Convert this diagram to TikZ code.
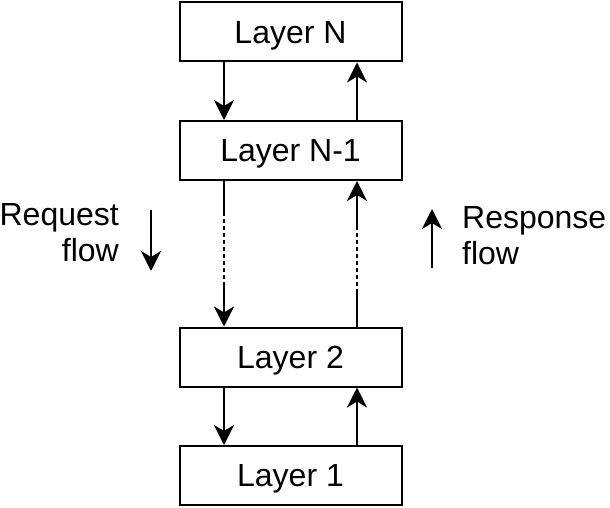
\documentclass[tikz,border=0pt]{standalone}
\usepackage{fontspec}
\setmainfont{Liberation Sans}
\usetikzlibrary{arrows.meta}

\tikzset{
  flowarrow/.style={line width=2.4pt,-{Stealth[length=20pt,width=20pt,inset=6pt]}}
}

\begin{document}
\begin{tikzpicture}[x=1pt,y=-1pt,
  layer/.style={draw,line width=2pt,minimum width=222pt,minimum height=59pt,inner sep=0pt,
    text depth=0pt,font=\fontsize{32}{37}\selectfont},
  gap/.style={line width=2.4pt,dash pattern=on 4pt off 3pt},
  flowtext/.style={inner sep=0pt,font=\fontsize{32}{36}\selectfont}]

\useasboundingbox (0,0) rectangle (610,508);

% the four layers
\foreach \name/\y/\txt in {n/32/Layer N, nmone/150.5/Layer N-1, two/357/Layer 2, one/475.5/Layer 1}
  {\node[layer] (\name) at (290.5,\y) {\txt};}

% request side (down)
\draw[flowarrow] ([xshift=-66.5pt]n.south) -- ([xshift=-66.5pt]nmone.north);
\coordinate (reqa) at (224,212);
\coordinate (reqb) at (224,283);
\draw[line width=2.4pt] ([xshift=-66.5pt]nmone.south) -- (reqa);
\draw[gap] (reqa) -- (reqb);
\draw[flowarrow] (reqb) -- ([xshift=-66.5pt]two.north);
\draw[flowarrow] ([xshift=-66.5pt]two.south) -- ([xshift=-66.5pt]one.north);

% response side (up)
\draw[flowarrow] ([xshift=66.5pt]one.north) -- ([xshift=66.5pt]two.south);
\coordinate (resa) at (357,293);
\coordinate (resb) at (357,227);
\draw[line width=2.4pt] ([xshift=66.5pt]two.north) -- (resa);
\draw[gap] (resa) -- (resb);
\draw[flowarrow] (resb) -- ([xshift=66.5pt]nmone.south);
\draw[flowarrow] ([xshift=66.5pt]nmone.north) -- ([xshift=66.5pt]n.south);

% side labels
\node[flowtext,align=right,anchor=north east] (req) at (119,203) {Request\\flow};
\coordinate (reqtop) at (151,210);
\coordinate (reqtip) at (151,271);
\draw[flowarrow] (reqtop) -- (reqtip);

\node[flowtext,align=left,anchor=north west] (res) at (462,206) {Response\\flow};
\coordinate (resbot) at (432,268);
\coordinate (restip) at (432,209);
\draw[flowarrow] (resbot) -- (restip);
\end{tikzpicture}
\end{document}
